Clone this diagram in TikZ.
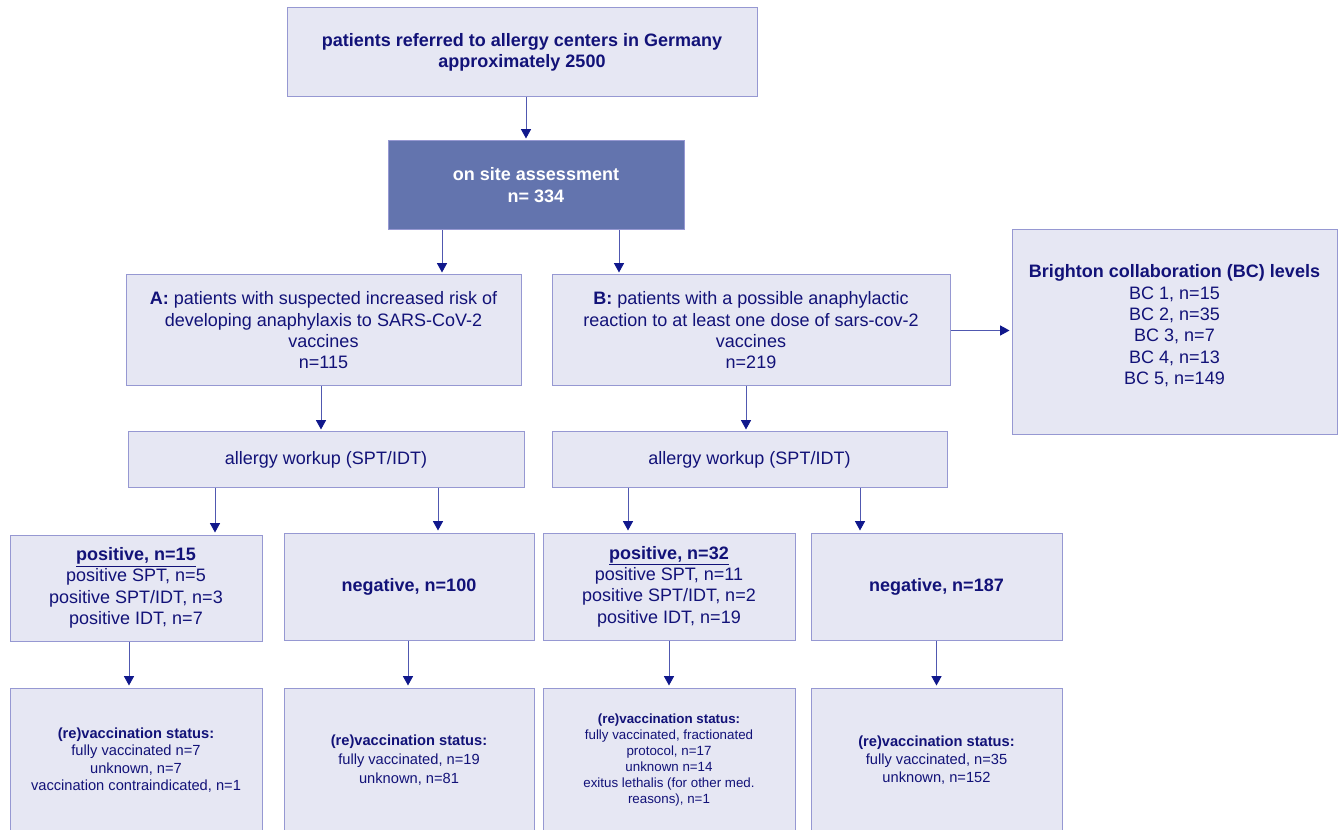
\documentclass[tikz,border=0pt]{standalone}
\usepackage{fontspec}
\setmainfont{Liberation Sans}
\usetikzlibrary{arrows.meta,calc}
\definecolor{navytext}{RGB}{18,18,120}
\definecolor{boxfill}{RGB}{230,231,243}
\definecolor{boxline}{RGB}{150,152,210}
\definecolor{sitefill}{RGB}{99,116,174}
\definecolor{arrline}{RGB}{80,88,176}
\definecolor{arrhead}{RGB}{16,24,140}

\begin{document}
\begin{tikzpicture}[x=0.75pt,y=0.75pt,yscale=-1,xscale=1,
  box/.style={draw=boxline, fill=boxfill, line width=0.75, text=navytext, align=center, inner sep=0pt, font=\fontsize{13.5}{16}\selectfont},
  arr/.style={draw=arrline, line width=0.75, shorten >=1.5pt, -{Triangle[width=7.5pt,length=7pt,color=arrhead]}}]
%set diagram size to the reference frame
\useasboundingbox (0,0) rectangle (1339,830);

% Text Node
\node (top) at (522,52.5) [box, minimum width=352.5pt, minimum height=66.75pt] {\textbf{patients referred to allergy centers in Germany}\\\textbf{approximately 2500}};
% Text Node
\node (onsite) at (536,185.5) [box, fill=sitefill, text=white, minimum width=222pt, minimum height=66.75pt, font=\fontsize{13.5}{16.5}\selectfont] {\textbf{on site assessment}\\\textbf{n= 334}};
% Text Node
\node (grpA) at (323.5,330.5) [box, minimum width=296.25pt, minimum height=83.25pt] {\textbf{A:} patients with suspected increased risk of\\developing anaphylaxis to SARS-CoV-2\\vaccines\\n=115};
% Text Node
\node (grpB) at (751,330.5) [box, minimum width=298.5pt, minimum height=83.25pt] {\textbf{B:} patients with a possible anaphylactic\\reaction to at least one dose of sars-cov-2\\vaccines\\n=219};
% Text Node
\node (bclev) at (1174.5,332.5) [box, minimum width=243.75pt, minimum height=153.75pt] {\textbf{Brighton collaboration (BC) levels}\\BC 1, n=15\\BC 2, n=35\\BC 3, n=7\\BC 4, n=13\\BC 5, n=149\\[-4pt]\mbox{}};
% Text Node
\node (workA) at (326,459.5) [box, minimum width=297pt, minimum height=41.25pt] {allergy workup (SPT/IDT)};
% Text Node
\node (workB) at (749.5,459.5) [box, minimum width=296.25pt, minimum height=41.25pt] {allergy workup (SPT/IDT)};
% Text Node
\node (posA) at (136,588) [box, minimum width=189pt, minimum height=79.5pt] {\textbf{\underline{positive, n=15}}\\positive SPT, n=5\\positive SPT/IDT, n=3\\positive IDT, n=7};
% Text Node
\node (negA) at (409,586.5) [box, minimum width=187.5pt, minimum height=80.25pt] {\textbf{negative, n=100}};
% Text Node
\node (posB) at (669,586.5) [box, minimum width=189pt, minimum height=80.25pt] {\textbf{\underline{positive, n=32}}\\positive SPT, n=11\\positive SPT/IDT, n=2\\positive IDT, n=19};
% Text Node
\node (negB) at (936.5,586.5) [box, minimum width=188.25pt, minimum height=80.25pt] {\textbf{negative, n=187}};
% Text Node
\node (vacA) at (136,760) [box, minimum width=189pt, minimum height=108pt, font=\fontsize{11}{13}\selectfont] {\textbf{(re)vaccination status:}\\fully vaccinated n=7\\unknown, n=7\\vaccination contraindicated, n=1};
% Text Node
\node (vacAn) at (409,760) [box, minimum width=187.5pt, minimum height=108pt, font=\fontsize{11}{14}\selectfont] {\textbf{(re)vaccination status:}\\fully vaccinated, n=19\\unknown, n=81};
% Text Node
\node (vacB) at (669,760) [box, minimum width=189pt, minimum height=108pt, font=\fontsize{10}{12}\selectfont] {\textbf{(re)vaccination status:}\\fully vaccinated, fractionated\\protocol, n=17\\unknown n=14\\exitus lethalis (for other med.\\reasons), n=1};
% Text Node
\node (vacBn) at (936.5,760) [box, minimum width=188.25pt, minimum height=108pt, font=\fontsize{11}{13.5}\selectfont] {\textbf{(re)vaccination status:}\\fully vaccinated, n=35\\unknown, n=152};

% Connection
\draw [arr] ($(top.south)+(4,0)$) coordinate (c1) -- (c1 |- onsite.north);
% Connection
\draw [arr] ($(onsite.south)+(-94,0)$) coordinate (c2) -- (c2 |- grpA.north);
% Connection
\draw [arr] ($(onsite.south)+(83,0)$) coordinate (c3) -- (c3 |- grpB.north);
% Connection
\draw [arr] (grpB.east) -- (grpB.east -| bclev.west);
% Connection
\draw [arr] ($(grpA.south)+(-2.5,0)$) coordinate (c4) -- (c4 |- workA.north);
% Connection
\draw [arr] ($(grpB.south)+(-5,0)$) coordinate (c5) -- (c5 |- workB.north);
% Connection
\draw [arr] ($(workA.south)+(-111,0)$) coordinate (c6) -- (c6 |- posA.north);
% Connection
\draw [arr] ($(workA.south)+(112,0)$) coordinate (c7) -- (c7 |- negA.north);
% Connection
\draw [arr] ($(workB.south)+(-121.5,0)$) coordinate (c8) -- (c8 |- posB.north);
% Connection
\draw [arr] ($(workB.south)+(110.5,0)$) coordinate (c9) -- (c9 |- negB.north);
% Connection
\draw [arr] ($(posA.south)+(-7,0)$) coordinate (c10) -- (c10 |- vacA.north);
% Connection
\draw [arr] ($(negA.south)+(-1,0)$) coordinate (c11) -- (c11 |- vacAn.north);
% Connection
\draw [arr] (posB.south) -- (vacB.north);
% Connection
\draw [arr] (negB.south) -- (vacBn.north);

\end{tikzpicture}
\end{document}
